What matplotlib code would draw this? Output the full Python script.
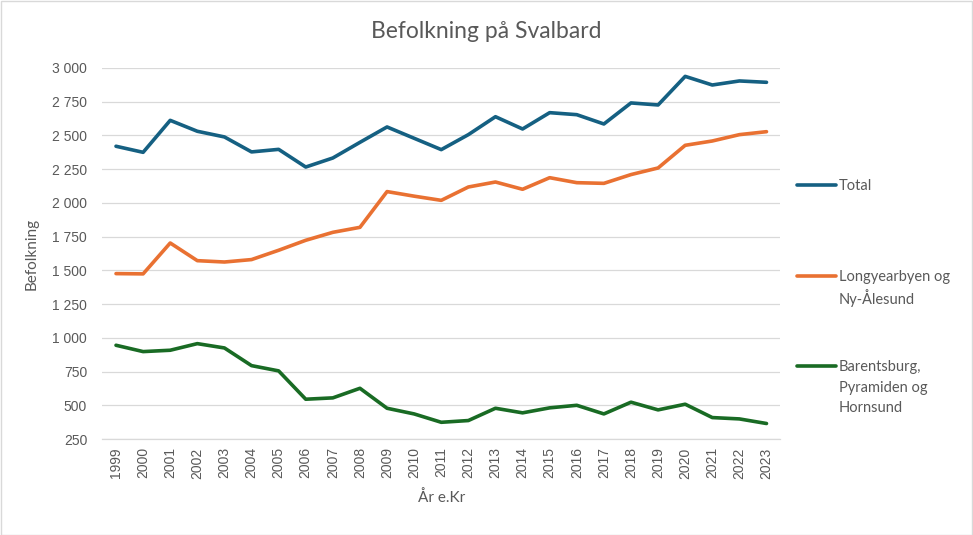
import matplotlib
matplotlib.use("Agg")
import matplotlib.pyplot as plt
from matplotlib.lines import Line2D
from matplotlib.patches import Rectangle
from matplotlib.ticker import FuncFormatter

years = [str(y) for y in range(1999, 2024)]
total = [2420, 2375, 2612, 2531, 2489, 2378, 2397, 2266, 2333, 2449, 2563, 2479,
         2395, 2506, 2639, 2548, 2669, 2654, 2585, 2741, 2726, 2938, 2874, 2904, 2894]
longyear = [1476, 1474, 1703, 1572, 1562, 1580, 1649, 1723, 1782, 1819, 2084, 2050,
            2019, 2118, 2155, 2101, 2187, 2150, 2145, 2210, 2259, 2427, 2459, 2506, 2528]
barents = [945, 898, 908, 957, 925, 794, 755, 545, 555, 626, 478, 436,
           374, 387, 478, 444, 481, 500, 436, 523, 466, 508, 409, 399, 365]

series_labels = [["Total"], ["Longyearbyen og", "Ny-Ålesund"], ["Barentsburg,", "Pyramiden og", "Hornsund"]]
colors = ["#156082", "#E97132", "#196B24"]
yticks = [250, 500, 750, 1000, 1250, 1500, 1750, 2000, 2250, 2500, 2750, 3000]

TXT = "#595959"
GRID = "#D9D9D9"
SANS = ["Lato", "DejaVu Sans"]

fig = plt.figure(figsize=(9.73, 5.35), dpi=100)
ax = fig.add_axes([0.1053, 0.1794, 0.6964, 0.6935])

x = list(range(len(years)))
for vals, c in zip([total, longyear, barents], colors):
    ax.plot(x, vals, color=c, linewidth=2.6, solid_capstyle="round", solid_joinstyle="round", zorder=3)

ax.set_xlim(-0.5, len(years) - 0.5)
ax.set_ylim(250, 3000)
ax.set_yticks(yticks)
ax.yaxis.set_major_formatter(FuncFormatter(lambda v, p: f"{int(v):,}".replace(",", " ")))
ax.set_xticks(x)
ax.set_xticklabels(years, rotation=90)
ax.grid(axis="y", color=GRID, linewidth=0.9, zorder=0)
ax.tick_params(axis="both", length=0, labelsize=10, colors=TXT)
ax.tick_params(axis="y", pad=11)
ax.tick_params(axis="x", pad=6)
for lab in ax.get_xticklabels() + ax.get_yticklabels():
    lab.set_fontfamily("Liberation Sans")
for s in ["top", "right", "left"]:
    ax.spines[s].set_visible(False)
ax.spines["bottom"].set_color(GRID)
ax.spines["bottom"].set_linewidth(0.9)

ax.set_xlabel("År e.Kr", fontsize=11, color=TXT, family=SANS, labelpad=8)
ax.set_ylabel("Befolkning", fontsize=11, color=TXT, family=SANS, labelpad=10)
fig.text(486 / 973, 1 - 31 / 535, "Befolkning på Svalbard", ha="center", va="center",
         fontsize=16.5, color=TXT, family=SANS)

# legend drawn by hand so the line sits on the first text line (Excel style)
leg_y = [185, 276, 366]
for lines, c, yy in zip(series_labels, colors, leg_y):
    yf = 1 - yy / 535
    fig.add_artist(Line2D([797 / 973, 836 / 973], [yf, yf], color=c, linewidth=2.6,
                          solid_capstyle="round", transform=fig.transFigure))
    for i, txt in enumerate(lines):
        fig.text(839 / 973, 1 - (yy + i * 20.5) / 535, txt, ha="left", va="center_baseline",
                 fontsize=10.5, color=TXT, family=SANS)

fig.add_artist(Rectangle((0.5 / 973, 0.5 / 535), 1 - 1.5 / 973, 1 - 1.5 / 535,
                         transform=fig.transFigure, fill=False, edgecolor=GRID, linewidth=1))

fig.savefig("out.png", dpi=100)
